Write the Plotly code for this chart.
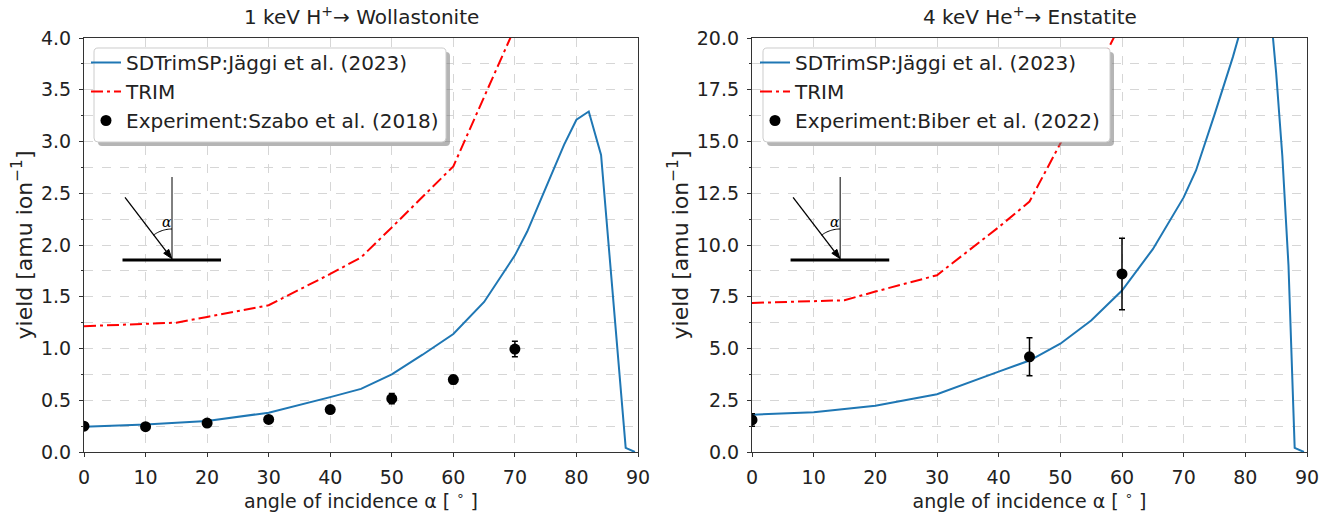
import math
import plotly.graph_objects as go

# ---------------- data ----------------
# Left panel: 1 keV H+ -> Wollastonite
sd_angle_L = [0, 10, 20, 30, 40, 45, 50, 55, 60, 65, 70, 72, 75, 78, 80, 82, 84, 88, 89.5]
sd_yield_L = [0.245, 0.265, 0.30, 0.38, 0.53, 0.61, 0.75, 0.94, 1.14, 1.45, 1.90, 2.13, 2.55, 2.97, 3.21, 3.29, 2.87, 0.04, 0.0]

trim_angle_L = [0, 10, 15, 20, 30, 40, 45, 50, 60, 70]
trim_yield_L = [1.215, 1.235, 1.25, 1.305, 1.418, 1.72, 1.88, 2.17, 2.76, 4.10]

exp_angle_L = [0, 10, 20, 30, 40, 50, 60, 70]
exp_yield_L = [0.25, 0.245, 0.28, 0.315, 0.41, 0.515, 0.70, 0.995]
exp_err_L = [0.02, 0.02, 0.02, 0.02, 0.02, 0.05, 0.04, 0.075]

# Right panel: 4 keV He+ -> Enstatite
sd_angle_R = [0, 10, 20, 30, 40, 45, 50, 55, 60, 65, 70, 72, 75, 78, 80, 82, 84, 85, 86, 87, 88, 89.5]
sd_yield_R = [1.80, 1.92, 2.23, 2.79, 3.88, 4.42, 5.23, 6.35, 7.8, 9.8, 12.3, 13.6, 16.3, 19.1, 21.2, 22.5, 21.6, 18.3, 14.3, 9.0, 0.2, 0.0]

trim_angle_R = [0, 10, 15, 20, 30, 40, 45, 50, 60]
trim_yield_R = [7.2, 7.29, 7.33, 7.75, 8.54, 10.86, 12.1, 14.9, 20.8]

exp_angle_R = [0, 45, 60]
exp_yield_R = [1.55, 4.6, 8.6]
exp_err_R = [0.3, 0.92, 1.73]

titles = ["1 keV H<sup>+</sup>→ Wollastonite", "4 keV He<sup>+</sup>→ Enstatite"]
legend_sd = "SDTrimSP:Jäggi et al. (2023)"
legend_trim = "TRIM"
legend_exp = ["Experiment:Szabo et al. (2018)", "Experiment:Biber et al. (2022)"]
x_title = "angle of incidence α [ <sup>∘</sup> ]"
y_title = "yield [amu ion<sup>−1</sup>]"

# ---------------- geometry (screen pixels) ----------------
W, H = 1328, 512
AX_L, AX_R = (84, 638), (752, 1307)
AX_TOP, AX_BOT = 38, 452
ML = AX_L[0]
MT = AX_TOP
MR = W - AX_R[1]
MB = H - AX_BOT
PW = W - ML - MR
PH = H - MT - MB

def px_to_paper_x(px):
    return (px - ML) / PW

def px_to_paper_y(py):
    return (AX_BOT - py) / PH

FONT = "DejaVu Sans"
BLUE = "#1f77b4"
RED = "#ff0000"
GRID = "#d6d6d6"
AXC = "#333333"
TXT = "#222222"
TICK_FS = 19

fig = go.Figure()

panels = [
    (sd_angle_L, sd_yield_L, trim_angle_L, trim_yield_L, exp_angle_L, exp_yield_L, exp_err_L, "x", "y", "legend"),
    (sd_angle_R, sd_yield_R, trim_angle_R, trim_yield_R, exp_angle_R, exp_yield_R, exp_err_R, "x2", "y2", "legend2"),
]

for i, (sa, sy, ta, ty, ea, ey, ee, xa, ya, lg) in enumerate(panels):
    fig.add_trace(go.Scatter(x=sa, y=sy, mode="lines", name=legend_sd,
                             line=dict(color=BLUE, width=2), xaxis=xa, yaxis=ya,
                             legend=lg, legendgroup=f"sd{i}"))
    fig.add_trace(go.Scatter(x=ta, y=ty, mode="lines", name=legend_trim,
                             line=dict(color=RED, width=2, dash="12px,4px,3px,4px"),
                             xaxis=xa, yaxis=ya, legend=lg, legendgroup=f"trim{i}"))
    fig.add_trace(go.Scatter(x=ea, y=ey, mode="markers", name=legend_exp[i],
                             marker=dict(color="black", size=11),
                             error_y=dict(type="data", array=ee, color="black", thickness=1.5, width=3),
                             xaxis=xa, yaxis=ya, legend=lg, legendgroup=f"exp{i}"))

d1 = [0, (AX_L[1] - AX_L[0]) / PW]
d2 = [(AX_R[0] - AX_L[0]) / PW, 1]

common_x = dict(range=[0, 90], dtick=10, tick0=0, showgrid=True, gridcolor=GRID, griddash="dash",
                gridwidth=1, ticks="outside", ticklen=4, tickcolor=AXC, showline=True, linecolor=AXC,
                linewidth=1.2, mirror=True, zeroline=False, automargin=False, ticklabelstandoff=4,
                tickfont=dict(family=FONT, size=TICK_FS, color=TXT),
                title=dict(text=x_title, font=dict(family=FONT, size=19, color=TXT), standoff=0))

def yaxis_cfg(anchor, rng, dt):
    return dict(domain=[0, 1], anchor=anchor, range=rng, dtick=dt, tick0=0, tickformat=".1f",
                showgrid=True, gridcolor=GRID, griddash="dash", gridwidth=1,
                minor=dict(dtick=dt / 2, showgrid=True, gridcolor=GRID, griddash="dash", ticks="outside",
                           ticklen=2, tickcolor=AXC),
                ticks="outside", ticklen=4, tickcolor=AXC, showline=True, linecolor=AXC, linewidth=1.2,
                mirror=True, zeroline=False, automargin=False, ticklabelstandoff=4,
                tickfont=dict(family=FONT, size=TICK_FS, color=TXT),
                title=dict(text=y_title, font=dict(family=FONT, size=22, color=TXT), standoff=2))

fig.update_layout(
    xaxis=dict(domain=d1, anchor="y", **common_x),
    xaxis2=dict(domain=d2, anchor="y2", **common_x),
    yaxis=yaxis_cfg("x", [0, 4.0], 0.5),
    yaxis2=yaxis_cfg("x2", [0, 20.0], 2.5),
    width=W, height=H,
    margin=dict(l=ML, r=MR, t=MT, b=MB, autoexpand=False),
    paper_bgcolor="white", plot_bgcolor="white",
    font=dict(family=FONT, size=TICK_FS, color=TXT),
)

shapes = []
annotations = []

def rounded_rect(x0, y0, x1, y1, r):
    def P(x, y):
        return f"{px_to_paper_x(x):.5f},{px_to_paper_y(y):.5f}"
    return (f"M {P(x0 + r, y0)} L {P(x1 - r, y0)} Q {P(x1, y0)} {P(x1, y0 + r)} "
            f"L {P(x1, y1 - r)} Q {P(x1, y1)} {P(x1 - r, y1)} L {P(x0 + r, y1)} "
            f"Q {P(x0, y1)} {P(x0, y1 - r)} L {P(x0, y0 + r)} Q {P(x0, y0)} {P(x0 + r, y0)} Z")

legend_boxes = [(94, 48, 446, 142), (763, 48, 1110, 142)]
for (x0, y0, x1, y1) in legend_boxes:
    shapes.append(dict(type="path", xref="paper", yref="paper", layer="above",
                       path=rounded_rect(x0 + 4, y0 + 4, x1 + 4, y1 + 4, 4),
                       fillcolor="rgba(120,120,120,0.55)", line=dict(width=0)))
    shapes.append(dict(type="path", xref="paper", yref="paper", layer="above",
                       path=rounded_rect(x0, y0, x1, y1, 4),
                       fillcolor="white", line=dict(color="#cccccc", width=1)))

leg_common = dict(bgcolor="rgba(0,0,0,0)", borderwidth=0, xanchor="left", yanchor="top",
                  font=dict(family=FONT, size=20, color=TXT), traceorder="grouped",
                  tracegroupgap=0, itemwidth=30)
fig.update_layout(
    legend=dict(x=px_to_paper_x(86), y=px_to_paper_y(43), **leg_common),
    legend2=dict(x=px_to_paper_x(755), y=px_to_paper_y(43), **leg_common),
)

# inset sketch (incidence geometry), placed relative to each axes (pixel offsets from bottom-left)
AXW, AXH = AX_L[1] - AX_L[0], AX_BOT - AX_TOP
def dx(p):
    return p / AXW
def dy(p):
    return p / AXH

tail = (41.0, 254.7)
head = (87.7, 193.5)
vx, vy = head[0] - tail[0], head[1] - tail[1]
vl = math.hypot(vx, vy)
ux, uy = vx / vl, vy / vl
nx, ny = -uy, ux
hl, hw = 9.0, 3.2
bx, by = head[0] - hl * ux, head[1] - hl * uy

for xa, ya in [("x", "y"), ("x2", "y2")]:
    xr, yr = f"{xa} domain", f"{ya} domain"
    shapes.append(dict(type="line", xref=xr, yref=yr, x0=dx(38.5), x1=dx(137), y0=dy(192), y1=dy(192),
                       line=dict(color="black", width=3), layer="above"))
    shapes.append(dict(type="line", xref=xr, yref=yr, x0=dx(88), x1=dx(88), y0=dy(192), y1=dy(275),
                       line=dict(color="black", width=1), layer="above"))
    r = 31
    ang = math.degrees(math.atan2(88 - tail[0], tail[1] - 192))
    pts = []
    n = 16
    for k in range(n + 1):
        t = math.radians(ang * k / n)
        pts.append((dx(88 - r * math.sin(t)), dy(192 + r * math.cos(t))))
    shapes.append(dict(type="path", xref=xr, yref=yr,
                       path="M " + " L ".join(f"{a:.5f},{b:.5f}" for a, b in pts),
                       line=dict(color="black", width=1), layer="above"))
    shapes.append(dict(type="line", xref=xr, yref=yr, x0=dx(tail[0]), y0=dy(tail[1]),
                       x1=dx(bx), y1=dy(by), line=dict(color="black", width=1.3), layer="above"))
    tri = [(head[0], head[1]), (bx + hw * nx, by + hw * ny), (bx - hw * nx, by - hw * ny)]
    shapes.append(dict(type="path", xref=xr, yref=yr, layer="above",
                       path="M " + " L ".join(f"{dx(a):.5f},{dy(b):.5f}" for a, b in tri) + " Z",
                       fillcolor="black", line=dict(color="black", width=1)))
    annotations.append(dict(xref=xr, yref=yr, x=dx(76), y=dy(230), text="<i>α</i>", showarrow=False,
                            font=dict(family="DejaVu Serif", size=14, color="black")))

for i, xa in enumerate(["x", "x2"]):
    annotations.append(dict(xref=f"{xa} domain", yref="paper", x=0.5, y=px_to_paper_y(16),
                            text=titles[i], showarrow=False, yanchor="middle",
                            font=dict(family=FONT, size=20, color=TXT)))

fig.update_layout(shapes=shapes, annotations=annotations)

fig.write_html("out.html", config={"displayModeBar": False},
               post_script="document.body.style.margin='0';document.body.style.overflow='hidden';")
